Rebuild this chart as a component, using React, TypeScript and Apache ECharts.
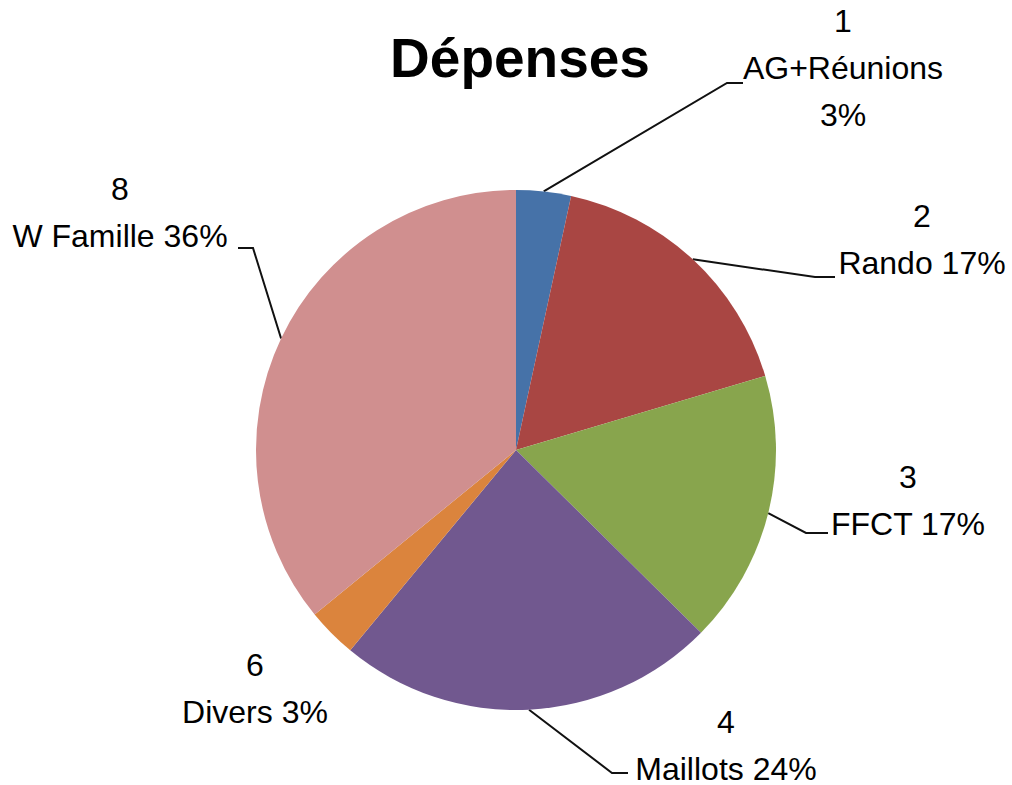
import React, { useEffect, useRef } from "react";
import * as echarts from "echarts";

const numbers = ["1", "2", "3", "4", "6", "8"];
const categories = ["AG+Réunions", "Rando", "FFCT", "Maillots", "Divers", "W Famille"];
const values = [3.4, 17.0, 17.0, 23.6, 3.1, 35.9];
const separators = ["\n", " ", " ", " ", " ", " "];
const colors = ["#4672A8", "#A94643", "#88A54D", "#71588F", "#DB843D", "#D08F8F"];

// label layout (centre of label block, elbow and end of leader line)
const labelLayouts = [
  { x: 843, y: 68, elbow: [727, 83], end: [743, 83] },
  { x: 922, y: 239, elbow: [815, 277], end: [835, 277] },
  { x: 908, y: 500, elbow: [806, 533], end: [828, 533] },
  { x: 726, y: 745, elbow: [612, 773], end: [628, 773] },
  { x: 255, y: 688, elbow: null, end: null },
  { x: 120, y: 212, elbow: [253, 248], end: [238, 248] },
];

export default function App() {
  const ref = useRef<HTMLDivElement>(null);
  useEffect(() => {
    document.body.style.margin = "0";
    const chart = echarts.init(ref.current!, null, { renderer: "svg" });
    const font = "'Liberation Sans', Arial, sans-serif";
    chart.setOption({
      animation: false,
      backgroundColor: "#ffffff",
      title: {
        text: "Dépenses",
        left: 515,
        top: 25,
        textAlign: "center",
        textStyle: { fontFamily: font, fontSize: 55, fontWeight: "bold", color: "#000" },
      },
      series: [
        {
          type: "pie",
          center: [516, 450],
          radius: 260,
          startAngle: 90,
          clockwise: true,
          avoidLabelOverlap: false,
          itemStyle: { borderWidth: 0 },
          label: {
            show: true,
            position: "outside",
            fontFamily: font,
            fontSize: 32,
            lineHeight: 47,
            color: "#000",
            align: "center",
            formatter: (p: any) =>
              `${numbers[p.dataIndex]}\n${p.name}${separators[p.dataIndex]}${Math.round(p.percent)}%`,
          },
          labelLine: { show: true, lineStyle: { color: "#111", width: 2 } },
          labelLayout: (params: any) => {
            const l = labelLayouts[params.dataIndex];
            const res: any = { x: l.x, y: l.y, align: "center", verticalAlign: "middle" };
            if (l.elbow && params.labelLinePoints) {
              res.labelLinePoints = [params.labelLinePoints[0], l.elbow, l.end];
            }
            return res;
          },
          data: categories.map((c, i) => ({
            name: c,
            value: values[i],
            itemStyle: { color: colors[i] },
            labelLine: { show: labelLayouts[i].elbow !== null },
          })),
        },
      ],
    });
    return () => chart.dispose();
  }, []);
  return <div ref={ref} style={{ width: 1012, height: 785 }} />;
}
